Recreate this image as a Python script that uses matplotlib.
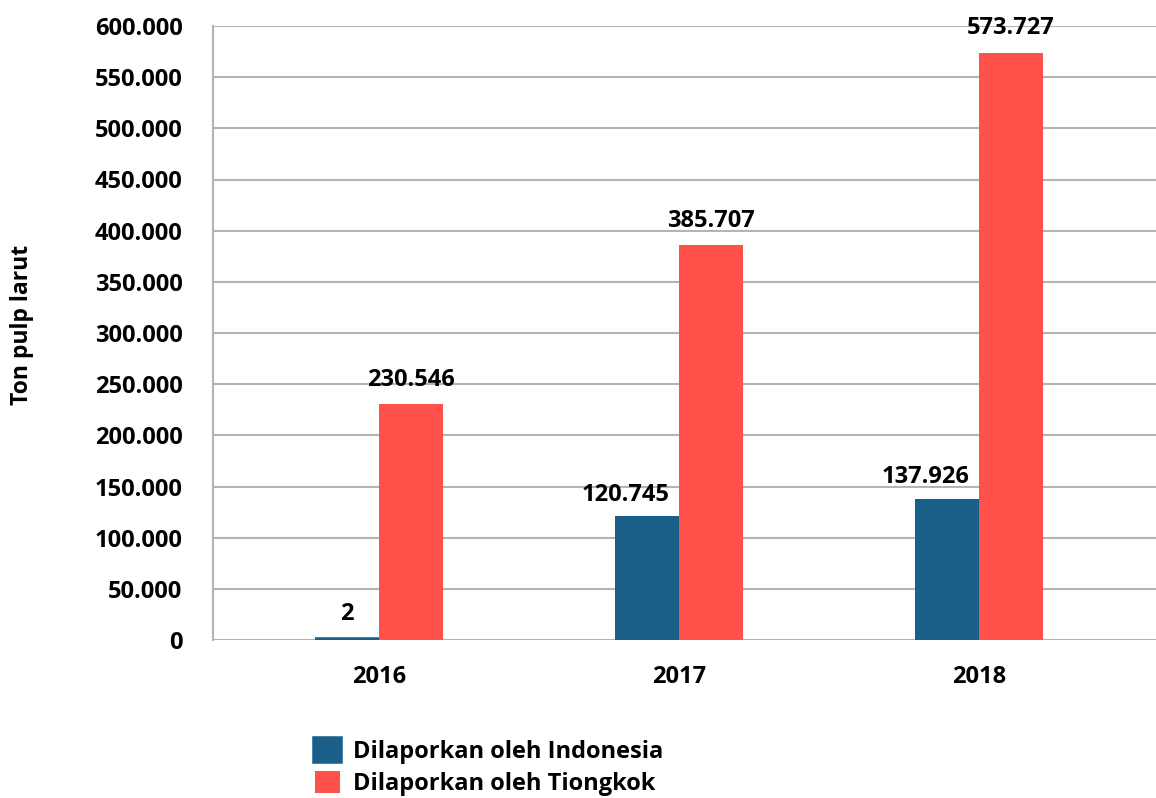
import matplotlib
matplotlib.use("Agg")
import matplotlib.pyplot as plt
from matplotlib.ticker import FuncFormatter
import numpy as np

years = ["2016", "2017", "2018"]
indonesia = [2, 120745, 137926]
tiongkok = [230546, 385707, 573727]
series_names = ["Dilaporkan oleh Indonesia", "Dilaporkan oleh Tiongkok"]

BLUE = "#1a5f88"
RED = "#ff5049"

plt.rcParams["font.family"] = ["Open Sans", "DejaVu Sans"]
plt.rcParams["font.weight"] = "bold"
FS = 17


def dotted(v, pos=None):
    return f"{int(round(v)):,}".replace(",", ".")


fig = plt.figure(figsize=(11.56, 7.98), dpi=100)
ax = fig.add_axes([213 / 1156, 1 - 640 / 798, 1 - 213 / 1156, (640 - 26) / 798])

x = np.arange(len(years))
w = 0.2133
bars_id = ax.bar(x - w / 2, indonesia, w, color=BLUE, edgecolor=BLUE, linewidth=0,
                 label=series_names[0], zorder=3)
ax.bar(x + w / 2, tiongkok, w, color=RED, edgecolor=RED, linewidth=0,
       label=series_names[1], zorder=3)
# the tiny 2016 bar still shows as a thin strip
for p, v in zip(bars_id.patches, indonesia):
    if v < 1000:
        p.set_linewidth(4)

ax.set_xlim(-0.553, 2.59)
ax.set_ylim(0, 600000)
ax.set_yticks(np.arange(0, 600001, 50000))
ax.yaxis.set_major_formatter(FuncFormatter(dotted))
ax.set_xticks(x)
ax.set_xticklabels(years)

ax.grid(axis="y", color="#b4b4b4", linewidth=1.5, zorder=0)
ax.set_axisbelow(True)
for s in ["top", "right", "bottom"]:
    ax.spines[s].set_visible(False)
ax.spines["left"].set_color("#b4b4b4")
ax.spines["left"].set_linewidth(1.5)
ax.tick_params(axis="both", length=0, labelsize=FS)
for lab in ax.get_xticklabels() + ax.get_yticklabels():
    lab.set_fontweight("bold")
ax.tick_params(axis="y", pad=22)
ax.tick_params(axis="x", pad=18)

fig.text(22 / 1156, 1 - 325 / 798, "Ton pulp larut", rotation=90, fontsize=16.5,
         fontweight="bold", ha="center", va="center")

# data labels
for i, v in enumerate(tiongkok):
    ax.annotate(dotted(v), (x[i] + w / 2, v), xytext=(0, 9), textcoords="offset points",
                ha="center", va="bottom", fontsize=FS, fontweight="bold")
for i, v in enumerate(indonesia):
    if v < 1000:
        ax.annotate(dotted(v), (x[i] - w / 2, v), xytext=(0, 10), textcoords="offset points",
                    ha="center", va="bottom", fontsize=FS, fontweight="bold")
    else:
        ax.annotate(dotted(v), (x[i], v), xytext=(-7, 7), textcoords="offset points",
                    ha="right", va="bottom", fontsize=FS, fontweight="bold")

leg = fig.legend(loc="upper left", bbox_to_anchor=(303 / 1156, 1 - 727 / 798), frameon=False,
                 fontsize=FS, handlelength=1.05, handleheight=1.05, handletextpad=0.55,
                 labelspacing=0.3, borderpad=0)
for t in leg.get_texts():
    t.set_fontweight("bold")

fig.savefig("out.png", dpi=100)
